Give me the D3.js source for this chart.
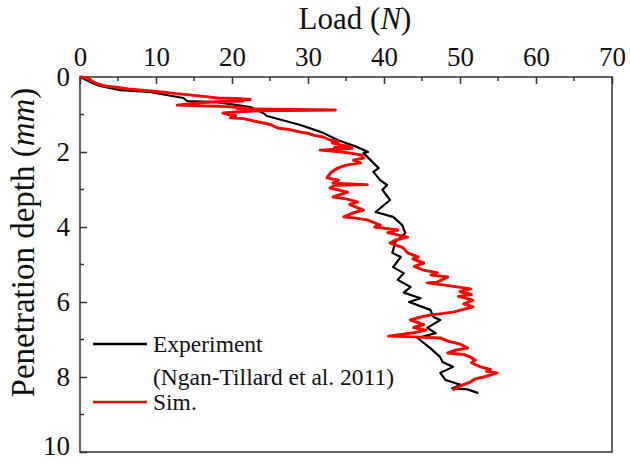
<!DOCTYPE html>
<html>
<head>
<meta charset="utf-8">
<script src="https://cdn.jsdelivr.net/npm/d3@7"></script>
<style>
  html, body { margin: 0; padding: 0; background: #fff; }
</style>
</head>
<body>
<svg id="chart" width="630" height="462"></svg>
<script>
// Load vs. penetration depth: measured curve and simulation
const loadTicks = [0, 10, 20, 30, 40, 50, 60, 70];
const depthTicks = [0, 2, 4, 6, 8, 10];

// Experiment (Ngan-Tillard et al. 2011): [load N, depth mm]
const expLoad = [0, 1.3, 2.6, 5.3, 9.2, 13.6, 14.1, 18.0, 22.4, 24.1, 24.6, 29.0, 32.0, 33.9, 36.5,
  37.9, 37.3, 38.2, 39.3, 38.6, 39.5, 40.4, 39.8, 40.8, 38.9, 41.2, 42.4, 42.8, 41.5, 41.1, 42.2,
  41.2, 42.6, 41.8, 43.5, 42.6, 44.8, 43.3, 46.1, 46.5, 47.4, 45.7, 46.8, 44.4, 46.1, 47.4, 47.7,
  49.1, 47.4, 48.1, 50.1, 49.0, 51.0, 52.4];
const expDepth = [0, 0.13, 0.24, 0.35, 0.40, 0.56, 0.64, 0.67, 0.80, 0.96, 1.04, 1.28, 1.49, 1.68, 1.87,
  2.00, 2.03, 2.21, 2.43, 2.53, 2.75, 2.88, 3.01, 3.28, 3.60, 3.73, 3.95, 4.16, 4.40, 4.69, 4.80,
  5.07, 5.23, 5.41, 5.60, 5.75, 5.90, 6.00, 6.21, 6.40, 6.48, 6.69, 6.83, 6.96, 7.23, 7.47, 7.60,
  7.73, 7.89, 8.08, 8.21, 8.30, 8.33, 8.43];

// Simulation: [load N, depth mm]
const simLoad = [0, 1.0, 1.5, 2.2, 3.3, 5.0, 6.3, 8.5, 10.7, 13.0, 15.0, 16.9, 18.0, 20.5, 22.4,
  19.5, 21.5, 17.8, 15.0, 12.8, 16.0, 18.5, 20.0, 21.8, 20.7, 25.0, 33.6, 24.0, 21.5, 18.8,
  19.5, 20.5, 19.8, 21.5, 22.4, 23.5, 24.5, 25.2, 26.0, 27.5, 29.0, 30.0, 30.7, 32.0, 32.9,
  34.0, 33.2, 34.3, 35.5, 33.5, 35.8, 31.6, 34.5, 35.6, 37.0, 37.3, 36.0, 36.9, 35.0, 33.9,
  33.0, 32.5, 34.0, 33.3, 37.8, 33.5, 32.9, 35.2, 33.3, 35.0, 36.5, 35.5, 37.3, 36.0, 34.7,
  36.5, 37.8, 39.5, 38.8, 41.8, 40.5, 43.1, 41.5, 40.8, 42.5, 43.1, 44.5, 43.8, 45.2, 44.0,
  45.2, 47.0, 46.2, 48.4, 47.0, 45.7, 48.0, 51.4, 50.0, 51.5, 49.8, 51.7, 50.5, 51.7, 49.1,
  46.0, 44.8, 43.5, 45.2, 43.9, 45.5, 43.9, 40.6, 44.0, 47.4, 48.5, 50.0, 51.0, 49.5, 48.4,
  50.5, 51.4, 52.0, 51.5, 52.7, 54.0, 53.5, 54.9, 53.1, 52.0, 51.4, 50.5, 49.7, 49.0];
const simDepth = [0, 0.02, 0.10, 0.18, 0.24, 0.28, 0.32, 0.36, 0.40, 0.45, 0.49, 0.53, 0.56, 0.57, 0.60,
  0.62, 0.64, 0.66, 0.70, 0.75, 0.77, 0.78, 0.80, 0.82, 0.84, 0.86, 0.88, 0.90, 0.92, 0.96,
  1.00, 1.03, 1.09, 1.11, 1.15, 1.20, 1.24, 1.28, 1.36, 1.40, 1.47, 1.50, 1.55, 1.60, 1.68,
  1.72, 1.76, 1.81, 1.85, 1.88, 1.90, 1.95, 2.00, 2.03, 2.08, 2.16, 2.22, 2.29, 2.35, 2.43,
  2.55, 2.69, 2.75, 2.83, 2.87, 2.89, 2.96, 3.07, 3.20, 3.25, 3.33, 3.40, 3.55, 3.62, 3.73,
  3.77, 3.81, 3.95, 4.00, 4.08, 4.15, 4.27, 4.35, 4.43, 4.55, 4.69, 4.80, 4.85, 4.96, 5.05,
  5.15, 5.22, 5.28, 5.33, 5.47, 5.49, 5.55, 5.65, 5.72, 5.80, 5.85, 5.95, 6.05, 6.13, 6.27,
  6.35, 6.40, 6.48, 6.60, 6.68, 6.75, 6.82, 6.91, 6.93, 6.96, 7.05, 7.12, 7.23, 7.28, 7.36,
  7.40, 7.47, 7.55, 7.62, 7.73, 7.80, 7.85, 7.89, 8.00, 8.05, 8.13, 8.20, 8.27, 8.35];

const legendItems = [
  { lines: ["Experiment", "(Ngan-Tillard et al. 2011)"], color: "#000000" },
  { lines: ["Sim."], color: "#ff0000" }
];

const serif = "'Liberation Serif', 'Times New Roman', Times, serif";
const svg = d3.select("#chart");
const plot = { left: 80, top: 77, right: 612, bottom: 452 };

const x = d3.scaleLinear().domain([0, 70]).range([plot.left, plot.right]);
const y = d3.scaleLinear().domain([0, 10]).range([plot.top, plot.bottom]);

const axisColor = "#333";

// Frame
svg.append("rect")
  .attr("x", plot.left).attr("y", plot.top)
  .attr("width", plot.right - plot.left).attr("height", plot.bottom - plot.top)
  .attr("fill", "none").attr("stroke", axisColor).attr("stroke-width", 1.5);

// Top axis, ticks pointing into the plot
const xAxis = d3.axisTop(x).tickValues(loadTicks).tickSize(-7).tickPadding(11).tickFormat(d3.format("d"));
const gx = svg.append("g").attr("transform", `translate(0,${plot.top})`).call(xAxis);
gx.append("g").selectAll("line").data(d3.range(5, 70, 10)).join("line")
  .attr("x1", d => x(d)).attr("x2", d => x(d)).attr("y1", 0).attr("y2", 4)
  .attr("stroke", axisColor).attr("stroke-width", 1.5);

// Left axis, ticks pointing into the plot
const yAxis = d3.axisLeft(y).tickValues(depthTicks).tickSize(-7).tickPadding(10).tickFormat(d3.format("d"));
const gy = svg.append("g").attr("transform", `translate(${plot.left},0)`).call(yAxis);
gy.append("g").selectAll("line").data(d3.range(1, 10, 2)).join("line")
  .attr("y1", d => y(d)).attr("y2", d => y(d)).attr("x1", 0).attr("x2", 4)
  .attr("stroke", axisColor).attr("stroke-width", 1.5);

[gx, gy].forEach(g => {
  g.attr("font-family", serif);
  g.select(".domain").remove();
  g.selectAll(".tick line").attr("stroke", axisColor).attr("stroke-width", 1.5);
  g.selectAll(".tick text").attr("fill", "#111").attr("font-size", 27);
});
// keep the bottom label inside the page
gy.selectAll(".tick text").filter(d => d === 10).attr("dy", "0.08em");

// Axis titles
const xTitle = svg.append("text")
  .attr("x", (plot.left + plot.right) / 2 + 9).attr("y", 29)
  .attr("text-anchor", "middle").attr("fill", "#111")
  .attr("font-family", serif).attr("font-size", 31);
xTitle.append("tspan").text("Load (");
xTitle.append("tspan").attr("font-style", "italic").text("N");
xTitle.append("tspan").text(")");

const yTitle = svg.append("text")
  .attr("transform", `translate(34,${(plot.top + plot.bottom) / 2 - 22}) rotate(-90)`)
  .attr("text-anchor", "middle").attr("fill", "#111")
  .attr("font-family", serif).attr("font-size", 33);
yTitle.append("tspan").text("Penetration depth (");
yTitle.append("tspan").attr("font-style", "italic").text("mm");
yTitle.append("tspan").text(")");

// Curves
const line = d3.line().x(d => x(d[0])).y(d => y(d[1]));
const expData = expLoad.map((v, i) => [v, expDepth[i]]);
const simData = simLoad.map((v, i) => [v, simDepth[i]]);

svg.append("path").datum(expData)
  .attr("d", line).attr("fill", "none").attr("stroke", "#000").attr("stroke-width", 2.2)
  .attr("stroke-linejoin", "round");
svg.append("path").datum(simData)
  .attr("d", line).attr("fill", "none").attr("stroke", "#ff0000").attr("stroke-width", 3)
  .attr("stroke-linejoin", "round");

// Legend
const lg = svg.append("g").attr("transform", "translate(93,344)");
let ly = 0;
legendItems.forEach(item => {
  lg.append("line").attr("x1", 0).attr("x2", 54).attr("y1", ly).attr("y2", ly)
    .attr("stroke", item.color).attr("stroke-width", 2.5);
  item.lines.forEach((t, k) => {
    lg.append("text").attr("x", 60).attr("y", ly + k * 33).attr("dy", "0.33em")
      .attr("fill", "#111").attr("font-family", serif).attr("font-size", 23.5).text(t);
  });
  ly += item.lines.length * 33 - 8;
});
</script>
</body>
</html>
